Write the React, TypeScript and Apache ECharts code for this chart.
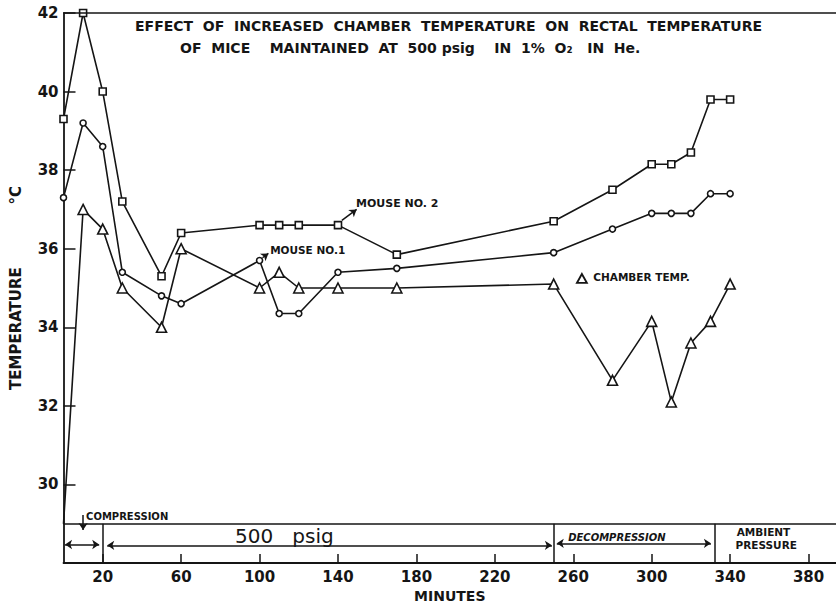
import React, { useEffect, useRef } from "react";
import * as echarts from "echarts";

const minutes = [0, 10, 20, 30, 50, 60, 100, 110, 120, 140, 170, 250, 280, 300, 310, 320, 330, 340];
const mouse2 = [39.3, 42.0, 40.0, 37.2, 35.3, 36.4, 36.6, 36.6, 36.6, 36.6, 35.85, 36.7, 37.5, 38.15, 38.15, 38.45, 39.8, 39.8];
const mouse1 = [37.3, 39.2, 38.6, 35.4, 34.8, 34.6, 35.7, 34.35, 34.35, 35.4, 35.5, 35.9, 36.5, 36.9, 36.9, 36.9, 37.4, 37.4];
const chamber = [29.0, 37.0, 36.5, 35.0, 34.0, 36.0, 35.0, 35.4, 35.0, 35.0, 35.0, 35.1, 32.65, 34.15, 32.1, 33.6, 34.15, 35.1];

const xTickLabels = [20, 60, 100, 140, 180, 220, 260, 300, 340, 380];
const yTickLabels = [30, 32, 34, 36, 38, 40, 42];
const phaseBounds = [20, 250, 332];

const INK = "#151515";
const FONT = '"DejaVu Sans", sans-serif';

export default function App() {
  const ref = useRef<HTMLDivElement>(null);

  useEffect(() => {
    document.body.style.margin = "0";
    const chart = echarts.init(ref.current!, null, { renderer: "svg" });

    const pairs = (xs: number[], ys: number[]) => xs.map((x, i) => [x, ys[i]]);
    const markerStyle = { color: "#ffffff", borderColor: INK, borderWidth: 1.6 };
    const lineStyle = { color: INK, width: 1.6 };

    const arrow = (a: number[], b: number[], s0: string, s1: string) => [
      { coord: a, symbol: s0, symbolSize: 7 },
      { coord: b, symbol: s1, symbolSize: 7 },
    ];

    const option: any = {
      animation: false,
      backgroundColor: "#ffffff",
      grid: { left: 63.5, right: 0, top: 13, bottom: 43, containLabel: false },
      xAxis: {
        type: "value",
        min: 0,
        max: 394,
        name: "MINUTES",
        nameLocation: "middle",
        nameGap: 26,
        nameTextStyle: { fontFamily: FONT, fontWeight: "bold", fontSize: 14, color: INK },
        axisLine: { show: true, lineStyle: { color: INK, width: 1.8 } },
        axisTick: { show: true, inside: true, length: 9, customValues: xTickLabels, lineStyle: { color: INK, width: 1.5 } },
        axisLabel: { customValues: xTickLabels, margin: 6, fontFamily: FONT, fontWeight: "bold", fontSize: 15, color: INK },
        splitLine: { show: false },
      },
      yAxis: {
        type: "value",
        min: 28,
        max: 42,
        interval: 2,
        name: "TEMPERATURE            °C",
        nameLocation: "middle",
        nameGap: 40,
        nameRotate: 90,
        nameTextStyle: { fontFamily: FONT, fontWeight: "bold", fontSize: 15, color: INK },
        axisLine: { show: true, lineStyle: { color: INK, width: 1.8 } },
        axisTick: { show: true, inside: true, length: 12, customValues: yTickLabels, lineStyle: { color: INK, width: 1.5 } },
        axisLabel: { customValues: yTickLabels, margin: 5, fontFamily: FONT, fontWeight: "bold", fontSize: 15, color: INK },
        splitLine: { show: false },
      },
      series: [
        {
          name: "MOUSE NO. 2",
          type: "line",
          data: pairs(minutes, mouse2),
          symbol: "rect",
          symbolSize: 7,
          showAllSymbol: true,
          lineStyle,
          itemStyle: markerStyle,
          z: 3,
          markLine: {
            silent: true,
            symbol: ["none", "none"],
            label: { show: false },
            lineStyle: { color: INK, width: 1.5, type: "solid" },
            emphasis: { disabled: true },
            data: [
              [{ coord: [0, 42], symbol: "none" }, { coord: [394, 42], symbol: "none" }],
              [{ coord: [0, 29], symbol: "none" }, { coord: [394, 29], symbol: "none" }],
              ...phaseBounds.map((b) => [
                { coord: [b, 28], symbol: "none" },
                { coord: [b, 29], symbol: "none" },
              ]),
              arrow([0.8, 28.47], [18.2, 28.47], "arrow", "arrow"),
              arrow([22.3, 28.45], [249.1, 28.45], "arrow", "arrow"),
              arrow([251.6, 28.5], [330.2, 28.5], "arrow", "arrow"),
              arrow([10, 29.22], [10, 28.84], "none", "arrow"),
              arrow([142, 36.72], [149.5, 37.0], "none", "arrow"),
              arrow([101.5, 35.77], [104.5, 35.88], "none", "arrow"),
            ],
          },
        },
        {
          name: "MOUSE NO. 1",
          type: "line",
          data: pairs(minutes, mouse1),
          symbol: "circle",
          symbolSize: 6,
          showAllSymbol: true,
          lineStyle,
          itemStyle: markerStyle,
          z: 3,
        },
        {
          name: "CHAMBER TEMP.",
          type: "line",
          data: minutes.map((m, i) =>
            i === 0 ? { value: [m, chamber[i]], symbol: "none" } : { value: [m, chamber[i]] }
          ),
          symbol: "triangle",
          symbolSize: 10,
          showAllSymbol: true,
          lineStyle,
          itemStyle: markerStyle,
          z: 3,
        },
      ],
    };

    chart.setOption(option);

    const px = (x: number, y: number) => chart.convertToPixel({ gridIndex: 0 }, [x, y]) as number[];
    const txt = (p: number[], text: string, size: number, align = "left", extra: any = {}) => ({
      type: "text",
      x: p[0],
      y: p[1],
      silent: true,
      style: {
        text,
        fill: INK,
        fontFamily: FONT,
        fontWeight: "bold",
        fontSize: size,
        align,
        verticalAlign: "middle",
        ...extra,
      },
    });

    const tri = px(264.4, 35.23);
    const graphic: any[] = [
      { type: "text", x: 135, y: 26, silent: true, style: { text: "EFFECT  OF  INCREASED  CHAMBER  TEMPERATURE  ON  RECTAL  TEMPERATURE", fill: INK, fontFamily: FONT, fontWeight: "bold", fontSize: 14, verticalAlign: "middle" } },
      { type: "text", x: 180, y: 48, silent: true, style: { text: "OF  MICE    MAINTAINED  AT  500 psig    IN  1%  O₂   IN  He.", fill: INK, fontFamily: FONT, fontWeight: "bold", fontSize: 14, verticalAlign: "middle" } },
      txt(px(149.2, 37.16), "MOUSE NO. 2", 11),
      txt(px(105.4, 35.97), "MOUSE NO.1", 10.5),
      {
        type: "polygon",
        silent: true,
        shape: { points: [[tri[0], tri[1] - 5], [tri[0] + 5, tri[1] + 4], [tri[0] - 5, tri[1] + 4]] },
        style: { fill: "none", stroke: INK, lineWidth: 1.8 },
      },
      txt(px(270.2, 35.29), "CHAMBER TEMP.", 10.5),
      txt(px(11.5, 29.18), "COMPRESSION", 10),
      txt(px(87.5, 28.68), "500   psig", 20, "left", { fontWeight: "normal" }),
      txt(px(257.4, 28.66), "DECOMPRESSION", 10, "left", { fontStyle: "italic" }),
      txt(px(357, 28.78), "AMBIENT", 10.5, "center"),
      txt(px(358.4, 28.45), "PRESSURE", 10.5, "center"),
    ];
    chart.setOption({ graphic });

    return () => chart.dispose();
  }, []);

  return <div ref={ref} style={{ width: 836, height: 608 }} />;
}
